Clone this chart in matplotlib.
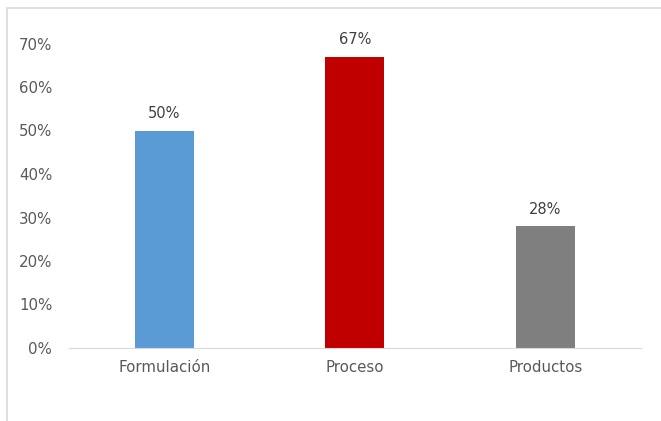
import matplotlib.pyplot as plt
from matplotlib.patches import Rectangle
from matplotlib.ticker import PercentFormatter

categorias = ['Formulación', 'Proceso', 'Productos']
valores = [0.50, 0.67, 0.28]
colores = ['#5B9BD5', '#C00000', '#7F7F7F']
ticks_y = [0.0, 0.1, 0.2, 0.3, 0.4, 0.5, 0.6, 0.7]

gris = '#595959'
plt.rcParams['font.family'] = ['DejaVu Sans']

fig = plt.figure(figsize=(6.61, 4.21), dpi=100)
# marco del grafico
fig.patches.append(Rectangle((7 / 661, -0.1), 1.2, 1 - 8.5 / 421 + 0.1, transform=fig.transFigure,
                             fill=False, edgecolor='#D9D9D9', linewidth=1.2))

ax = fig.add_axes([69 / 661, 73 / 421, 571.5 / 661, 304.5 / 421])
x = range(len(categorias))
barras = ax.bar(x, valores, width=0.31, color=colores)

for b, v in zip(barras, valores):
    ax.text(b.get_x() + b.get_width() / 2, v + 0.022, f'{v:.0%}', ha='center', va='bottom',
            fontsize=10.5, color='#404040')

ax.set_xlim(-0.5, 2.5)
ax.set_ylim(0, 0.7)
ax.set_yticks(ticks_y)
ax.yaxis.set_major_formatter(PercentFormatter(1.0, decimals=0))
ax.set_xticks(list(x))
ax.set_xticklabels(categorias)
ax.tick_params(axis='both', length=0, labelsize=10.8, labelcolor=gris)
ax.tick_params(axis='y', pad=12)
ax.tick_params(axis='x', pad=9)

for s in ['top', 'right', 'left']:
    ax.spines[s].set_visible(False)
ax.spines['bottom'].set_color('#D9D9D9')

fig.savefig('out.png', dpi=100)
